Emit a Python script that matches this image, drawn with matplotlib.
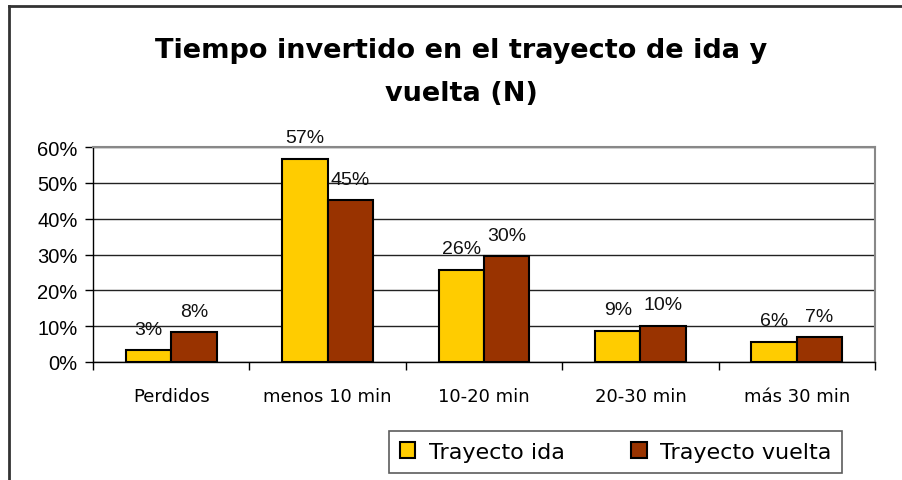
import matplotlib
matplotlib.use("Agg")
import matplotlib.pyplot as plt
from matplotlib.lines import Line2D
from matplotlib.ticker import FixedLocator, FuncFormatter
import numpy as np

categories = ["Perdidos", "menos 10 min", "10-20 min", "20-30 min", "más 30 min"]
ida = [3.3, 56.7, 25.7, 8.7, 5.6]
vuelta = [8.3, 45.2, 29.5, 10.1, 6.9]
series_names = ["Trayecto ida", "Trayecto vuelta"]
yticks = [0, 10, 20, 30, 40, 50, 60]
title = "Tiempo invertido en el trayecto de ida y\nvuelta (N)"

c_ida = "#FFCC00"
c_vuelta = "#993300"

fig = plt.figure(figsize=(9.03, 4.81), dpi=100)
ax = fig.add_axes([93/903, 1-363/481, (875-93)/903, (363-148)/481])

x = np.arange(len(categories))
w = 0.29
b1 = ax.bar(x - w/2, ida, w, color=c_ida, edgecolor="black", linewidth=1.5, label=series_names[0], zorder=3)
b2 = ax.bar(x + w/2, vuelta, w, color=c_vuelta, edgecolor="black", linewidth=1.5, label=series_names[1], zorder=3)

for bars, vals in ((b1, ida), (b2, vuelta)):
    for r, v in zip(bars, vals):
        ax.annotate(f"{round(v):d}%", (r.get_x() + r.get_width()/2, v),
                    xytext=(0, 9), textcoords="offset points", ha="center", va="bottom",
                    fontsize=14, family="Liberation Sans", color="#111111")

ax.set_xlim(-0.5, len(categories) - 0.5)
ax.set_ylim(0, 60)
ax.yaxis.set_major_locator(FixedLocator(yticks))
ax.yaxis.set_major_formatter(FuncFormatter(lambda v, p: f"{int(v)}%"))
for lbl in ax.get_yticklabels():
    lbl.set_fontfamily("Liberation Sans")
    lbl.set_fontsize(14.5)
ax.tick_params(axis="y", direction="out", length=6, width=1, pad=5, colors="black")

ax.set_xticks(np.arange(len(categories) + 1) - 0.5)
ax.set_xticklabels([])
ax.set_xticks(x, minor=True)
ax.set_xticklabels(categories, minor=True, fontsize=13, family="DejaVu Sans")
ax.tick_params(axis="x", which="major", direction="out", length=6, width=1, colors="black")
ax.tick_params(axis="x", which="minor", length=0, pad=18)

ax.grid(axis="y", color="#222222", linewidth=1, zorder=0)
ax.set_axisbelow(True)
for s in ("top", "right"):
    ax.spines[s].set_color("#888888")
    ax.spines[s].set_linewidth(1.5)
for s in ("left", "bottom"):
    ax.spines[s].set_color("black")
    ax.spines[s].set_linewidth(1)

fig.text(461/903, 1-73/481, title, ha="center", va="center", fontsize=19.5,
         fontweight="bold", family="DejaVu Sans", linespacing=1.85)

leg = fig.legend(handles=[b1, b2], labels=series_names, loc="center",
                 bbox_to_anchor=((379+852)/2/903, 1-(429+477)/2/481),
                 ncol=2, frameon=True, fancybox=False,
                 handlelength=0.7, handleheight=0.7, handletextpad=0.6,
                 columnspacing=3.0, borderpad=0.5, prop={"family": "DejaVu Sans", "size": 16})
leg.get_frame().set_edgecolor("#333333")
leg.get_frame().set_linewidth(1.2)

fig.add_artist(Line2D([9/903, 9/903], [0, 1-7/481], color="#333333", linewidth=2, transform=fig.transFigure))
fig.add_artist(Line2D([9/903, 1], [1-7/481, 1-7/481], color="#333333", linewidth=2, transform=fig.transFigure))

fig.savefig("out.png", dpi=100)
